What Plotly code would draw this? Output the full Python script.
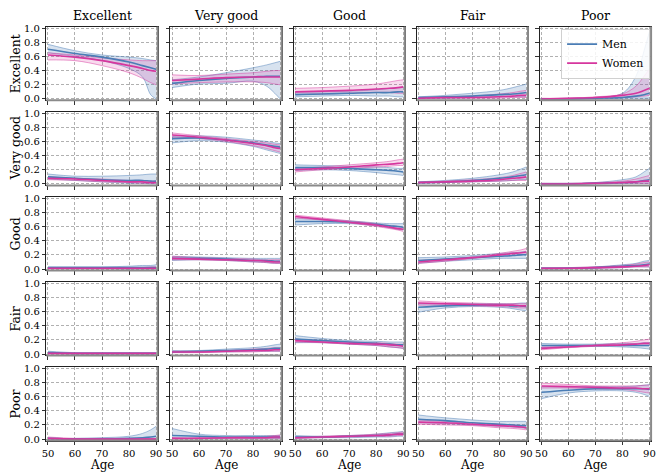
import plotly.graph_objects as go

AGES = [50, 60, 70, 80, 85, 88, 90]
STATES = ["Excellent", "Very good", "Good", "Fair", "Poor"]
X_TICKS = [50, 60, 70, 80, 90]
Y_TICKS = [0.0, 0.2, 0.4, 0.6, 0.8, 1.0]

# [from_state][to_state] -> values at AGES
MEN_MEAN = [
    [[0.70, 0.64, 0.59, 0.52, 0.47, 0.44, 0.42], [0.22, 0.26, 0.29, 0.31, 0.32, 0.32, 0.32], [0.06, 0.07, 0.08, 0.09, 0.09, 0.10, 0.10], [0.02, 0.03, 0.04, 0.06, 0.07, 0.08, 0.09], [0.00, 0.00, 0.01, 0.02, 0.04, 0.06, 0.08]],
    [[0.10, 0.08, 0.06, 0.05, 0.05, 0.04, 0.04], [0.64, 0.65, 0.62, 0.58, 0.55, 0.53, 0.52], [0.23, 0.23, 0.22, 0.20, 0.19, 0.18, 0.17], [0.02, 0.03, 0.05, 0.08, 0.10, 0.12, 0.13], [0.00, 0.00, 0.01, 0.02, 0.03, 0.05, 0.06]],
    [[0.02, 0.02, 0.02, 0.02, 0.02, 0.02, 0.02], [0.15, 0.15, 0.14, 0.12, 0.12, 0.11, 0.11], [0.67, 0.67, 0.66, 0.63, 0.61, 0.60, 0.59], [0.12, 0.14, 0.16, 0.18, 0.19, 0.20, 0.20], [0.01, 0.01, 0.02, 0.04, 0.05, 0.06, 0.07]],
    [[0.02, 0.01, 0.01, 0.01, 0.01, 0.01, 0.01], [0.03, 0.04, 0.05, 0.06, 0.07, 0.08, 0.08], [0.21, 0.19, 0.17, 0.15, 0.14, 0.13, 0.13], [0.66, 0.68, 0.69, 0.69, 0.68, 0.68, 0.67], [0.12, 0.12, 0.12, 0.12, 0.12, 0.12, 0.12]],
    [[0.01, 0.00, 0.00, 0.01, 0.02, 0.03, 0.04], [0.05, 0.04, 0.03, 0.03, 0.03, 0.03, 0.03], [0.03, 0.03, 0.04, 0.05, 0.06, 0.07, 0.07], [0.28, 0.26, 0.23, 0.21, 0.20, 0.19, 0.19], [0.66, 0.69, 0.71, 0.71, 0.71, 0.71, 0.70]],
]
MEN_LO = [
    [[0.65, 0.60, 0.54, 0.43, 0.31, 0.06, 0.00], [0.16, 0.21, 0.22, 0.25, 0.18, 0.08, 0.00], [0.03, 0.04, 0.05, 0.04, 0.04, 0.03, 0.03], [0.01, 0.01, 0.02, 0.03, 0.03, 0.03, 0.03], [0.00, 0.00, 0.00, 0.01, 0.01, 0.01, 0.01]],
    [[0.07, 0.05, 0.03, 0.01, 0.01, 0.00, 0.00], [0.58, 0.61, 0.59, 0.53, 0.48, 0.45, 0.43], [0.19, 0.20, 0.19, 0.16, 0.14, 0.13, 0.12], [0.01, 0.02, 0.03, 0.04, 0.05, 0.06, 0.06], [0.00, 0.00, 0.00, 0.01, 0.01, 0.01, 0.01]],
    [[0.01, 0.01, 0.01, 0.00, 0.00, 0.00, 0.00], [0.12, 0.13, 0.12, 0.10, 0.09, 0.08, 0.08], [0.62, 0.64, 0.64, 0.61, 0.58, 0.56, 0.55], [0.08, 0.11, 0.13, 0.15, 0.15, 0.15, 0.15], [0.00, 0.01, 0.01, 0.02, 0.03, 0.03, 0.03]],
    [[0.01, 0.00, 0.00, 0.00, 0.00, 0.00, 0.00], [0.02, 0.03, 0.03, 0.04, 0.04, 0.04, 0.04], [0.16, 0.16, 0.14, 0.12, 0.10, 0.09, 0.08], [0.59, 0.65, 0.67, 0.66, 0.64, 0.62, 0.61], [0.09, 0.10, 0.11, 0.10, 0.09, 0.08, 0.07]],
    [[0.00, 0.00, 0.00, 0.00, 0.00, 0.00, 0.00], [0.01, 0.01, 0.01, 0.01, 0.01, 0.01, 0.01], [0.01, 0.02, 0.02, 0.03, 0.03, 0.04, 0.04], [0.23, 0.22, 0.20, 0.18, 0.17, 0.16, 0.15], [0.57, 0.65, 0.68, 0.68, 0.66, 0.63, 0.60]],
]
MEN_HI = [
    [[0.77, 0.68, 0.62, 0.59, 0.57, 0.55, 0.54], [0.27, 0.31, 0.37, 0.44, 0.48, 0.51, 0.53], [0.10, 0.10, 0.11, 0.13, 0.15, 0.16, 0.17], [0.03, 0.05, 0.08, 0.12, 0.16, 0.19, 0.21], [0.00, 0.01, 0.02, 0.08, 0.32, 0.68, 0.95]],
    [[0.14, 0.11, 0.11, 0.12, 0.13, 0.14, 0.14], [0.67, 0.68, 0.66, 0.62, 0.60, 0.58, 0.57], [0.27, 0.26, 0.25, 0.24, 0.23, 0.22, 0.22], [0.03, 0.05, 0.08, 0.13, 0.17, 0.21, 0.24], [0.01, 0.01, 0.02, 0.06, 0.10, 0.17, 0.22]],
    [[0.03, 0.03, 0.03, 0.04, 0.05, 0.05, 0.06], [0.18, 0.17, 0.16, 0.15, 0.15, 0.15, 0.15], [0.71, 0.70, 0.68, 0.65, 0.64, 0.64, 0.64], [0.16, 0.17, 0.19, 0.22, 0.23, 0.24, 0.25], [0.02, 0.02, 0.03, 0.06, 0.08, 0.11, 0.12]],
    [[0.04, 0.02, 0.02, 0.02, 0.02, 0.02, 0.02], [0.05, 0.05, 0.07, 0.09, 0.11, 0.13, 0.14], [0.26, 0.22, 0.19, 0.18, 0.17, 0.17, 0.17], [0.71, 0.71, 0.71, 0.71, 0.71, 0.72, 0.72], [0.15, 0.14, 0.14, 0.15, 0.15, 0.16, 0.16]],
    [[0.01, 0.01, 0.02, 0.04, 0.08, 0.13, 0.18], [0.15, 0.07, 0.05, 0.05, 0.05, 0.05, 0.05], [0.05, 0.04, 0.05, 0.07, 0.09, 0.10, 0.11], [0.34, 0.30, 0.27, 0.25, 0.25, 0.25, 0.25], [0.74, 0.74, 0.74, 0.74, 0.75, 0.76, 0.77]],
]
WOMEN_MEAN = [
    [[0.62, 0.59, 0.54, 0.47, 0.43, 0.40, 0.39], [0.26, 0.28, 0.30, 0.31, 0.31, 0.31, 0.31], [0.10, 0.11, 0.12, 0.14, 0.15, 0.16, 0.17], [0.01, 0.02, 0.02, 0.03, 0.04, 0.05, 0.05], [0.00, 0.01, 0.02, 0.05, 0.08, 0.12, 0.15]],
    [[0.08, 0.07, 0.05, 0.03, 0.03, 0.02, 0.02], [0.69, 0.66, 0.62, 0.57, 0.54, 0.51, 0.50], [0.20, 0.22, 0.24, 0.27, 0.28, 0.29, 0.30], [0.02, 0.03, 0.04, 0.06, 0.08, 0.09, 0.10], [0.00, 0.00, 0.01, 0.02, 0.03, 0.04, 0.04]],
    [[0.01, 0.01, 0.01, 0.01, 0.01, 0.01, 0.01], [0.15, 0.14, 0.13, 0.12, 0.11, 0.10, 0.10], [0.74, 0.70, 0.66, 0.62, 0.59, 0.57, 0.56], [0.10, 0.13, 0.16, 0.20, 0.22, 0.23, 0.24], [0.01, 0.01, 0.02, 0.03, 0.04, 0.05, 0.06]],
    [[0.01, 0.01, 0.01, 0.01, 0.01, 0.01, 0.01], [0.03, 0.03, 0.04, 0.05, 0.05, 0.06, 0.06], [0.19, 0.17, 0.15, 0.14, 0.13, 0.12, 0.11], [0.72, 0.71, 0.70, 0.69, 0.69, 0.68, 0.68], [0.08, 0.10, 0.12, 0.13, 0.14, 0.15, 0.15]],
    [[0.01, 0.00, 0.00, 0.00, 0.00, 0.00, 0.00], [0.01, 0.01, 0.02, 0.02, 0.02, 0.03, 0.03], [0.02, 0.03, 0.04, 0.05, 0.06, 0.07, 0.07], [0.24, 0.23, 0.21, 0.19, 0.18, 0.17, 0.16], [0.75, 0.74, 0.73, 0.72, 0.72, 0.71, 0.71]],
]
WOMEN_LO = [
    [[0.55, 0.54, 0.47, 0.37, 0.29, 0.23, 0.20], [0.21, 0.23, 0.24, 0.24, 0.23, 0.21, 0.20], [0.06, 0.07, 0.08, 0.09, 0.09, 0.08, 0.08], [0.00, 0.01, 0.01, 0.01, 0.02, 0.02, 0.02], [0.00, 0.00, 0.01, 0.02, 0.03, 0.04, 0.05]],
    [[0.06, 0.05, 0.03, 0.02, 0.01, 0.01, 0.01], [0.66, 0.64, 0.60, 0.54, 0.50, 0.47, 0.45], [0.17, 0.20, 0.22, 0.24, 0.25, 0.26, 0.26], [0.01, 0.02, 0.03, 0.04, 0.05, 0.05, 0.05], [0.00, 0.00, 0.00, 0.01, 0.01, 0.01, 0.01]],
    [[0.00, 0.00, 0.00, 0.00, 0.00, 0.00, 0.00], [0.13, 0.13, 0.12, 0.10, 0.09, 0.08, 0.08], [0.72, 0.69, 0.65, 0.60, 0.57, 0.55, 0.53], [0.08, 0.11, 0.15, 0.18, 0.19, 0.20, 0.21], [0.00, 0.01, 0.01, 0.02, 0.03, 0.03, 0.03]],
    [[0.00, 0.00, 0.00, 0.00, 0.00, 0.00, 0.00], [0.02, 0.02, 0.03, 0.03, 0.04, 0.04, 0.04], [0.17, 0.16, 0.14, 0.12, 0.10, 0.09, 0.08], [0.69, 0.69, 0.68, 0.67, 0.66, 0.65, 0.65], [0.06, 0.09, 0.11, 0.12, 0.12, 0.12, 0.12]],
    [[0.00, 0.00, 0.00, 0.00, 0.00, 0.00, 0.00], [0.00, 0.01, 0.01, 0.01, 0.01, 0.01, 0.01], [0.01, 0.02, 0.03, 0.04, 0.04, 0.05, 0.05], [0.21, 0.20, 0.19, 0.16, 0.15, 0.14, 0.13], [0.72, 0.72, 0.71, 0.70, 0.68, 0.66, 0.65]],
]
WOMEN_HI = [
    [[0.65, 0.62, 0.58, 0.55, 0.54, 0.54, 0.54], [0.34, 0.33, 0.35, 0.37, 0.39, 0.40, 0.40], [0.15, 0.16, 0.18, 0.21, 0.24, 0.26, 0.27], [0.02, 0.03, 0.04, 0.07, 0.09, 0.11, 0.12], [0.01, 0.01, 0.03, 0.07, 0.18, 0.32, 0.42]],
    [[0.10, 0.08, 0.07, 0.05, 0.05, 0.04, 0.04], [0.72, 0.68, 0.64, 0.60, 0.58, 0.56, 0.55], [0.22, 0.24, 0.27, 0.30, 0.32, 0.34, 0.35], [0.03, 0.04, 0.06, 0.09, 0.12, 0.15, 0.17], [0.01, 0.01, 0.02, 0.04, 0.07, 0.10, 0.12]],
    [[0.02, 0.02, 0.02, 0.02, 0.02, 0.03, 0.03], [0.18, 0.16, 0.15, 0.14, 0.13, 0.13, 0.13], [0.76, 0.72, 0.68, 0.64, 0.61, 0.60, 0.59], [0.12, 0.14, 0.17, 0.22, 0.25, 0.27, 0.29], [0.01, 0.02, 0.03, 0.05, 0.07, 0.09, 0.10]],
    [[0.02, 0.01, 0.01, 0.01, 0.01, 0.01, 0.01], [0.04, 0.04, 0.05, 0.07, 0.08, 0.09, 0.09], [0.21, 0.19, 0.17, 0.16, 0.15, 0.14, 0.14], [0.75, 0.73, 0.72, 0.71, 0.71, 0.71, 0.71], [0.10, 0.11, 0.13, 0.16, 0.18, 0.20, 0.21]],
    [[0.03, 0.01, 0.01, 0.01, 0.01, 0.01, 0.01], [0.02, 0.02, 0.02, 0.03, 0.04, 0.05, 0.06], [0.03, 0.04, 0.05, 0.07, 0.08, 0.09, 0.10], [0.27, 0.25, 0.23, 0.21, 0.20, 0.19, 0.19], [0.79, 0.77, 0.75, 0.75, 0.75, 0.76, 0.76]],
]

W, H = 661, 475
FONT = "DejaVu Serif"
COL_LEFT = [42, 168, 293, 418, 543]
COL_W = 113
ROW_TOP = [23, 109.5, 196, 282.5, 369]
ROW_H = 75

MEN_C = "#4a7db5"
MEN_FILL = "rgba(74,125,181,0.22)"
MEN_EDGE = "rgba(74,125,181,0.6)"
WOM_C = "#d6369e"
WOM_FILL = "rgba(214,54,158,0.18)"
WOM_EDGE = "rgba(214,54,158,0.6)"

fig = go.Figure()
layout = dict(
    width=W, height=H,
    margin=dict(l=0, r=0, t=0, b=0),
    paper_bgcolor="white", plot_bgcolor="white",
    font=dict(family=FONT, size=10, color="black"),
    showlegend=True,
)
annotations = []
shapes = []

for r in range(5):
    for c in range(5):
        idx = r * 5 + c + 1
        xa = "x" if idx == 1 else f"x{idx}"
        ya = "y" if idx == 1 else f"y{idx}"
        first = (r == 0 and c == 4)
        for mean, lo, hi, col, fill, edge, name in (
            (MEN_MEAN, MEN_LO, MEN_HI, MEN_C, MEN_FILL, MEN_EDGE, "Men"),
            (WOMEN_MEAN, WOMEN_LO, WOMEN_HI, WOM_C, WOM_FILL, WOM_EDGE, "Women"),
        ):
            fig.add_trace(go.Scatter(x=AGES, y=hi[r][c], xaxis=xa, yaxis=ya, mode="lines",
                                     line=dict(color=edge, width=0.8, shape="spline"),
                                     showlegend=False, hoverinfo="skip"))
            fig.add_trace(go.Scatter(x=AGES, y=lo[r][c], xaxis=xa, yaxis=ya, mode="lines",
                                     line=dict(color=edge, width=0.8, shape="spline"),
                                     fill="tonexty", fillcolor=fill,
                                     showlegend=False, hoverinfo="skip"))
        fig.add_trace(go.Scatter(x=AGES, y=MEN_MEAN[r][c], xaxis=xa, yaxis=ya, mode="lines",
                                 line=dict(color=MEN_C, width=1.6, shape="spline"),
                                 name="Men", showlegend=first))
        fig.add_trace(go.Scatter(x=AGES, y=WOMEN_MEAN[r][c], xaxis=xa, yaxis=ya, mode="lines",
                                 line=dict(color=WOM_C, width=1.6, shape="spline"),
                                 name="Women", showlegend=first))

        x0 = COL_LEFT[c] / W
        x1 = (COL_LEFT[c] + COL_W) / W
        y1 = 1 - ROW_TOP[r] / H
        y0 = 1 - (ROW_TOP[r] + ROW_H) / H
        axis_common = dict(showline=True, mirror=True, linecolor="#222222", linewidth=1,
                           showgrid=True, gridcolor="#b0b0b0", gridwidth=0.8, griddash="3px,2px",
                           zeroline=False, ticks="outside", ticklen=3.5, tickwidth=0.8,
                           tickcolor="#333333", tickfont=dict(family=FONT, size=10))
        layout["xaxis" if idx == 1 else f"xaxis{idx}"] = dict(
            axis_common, domain=[x0, x1], range=[49.4, 90.6], tickvals=X_TICKS,
            showticklabels=(r == 4), anchor=ya)
        layout["yaxis" if idx == 1 else f"yaxis{idx}"] = dict(
            axis_common, domain=[y0, y1], range=[-0.02, 1.02], tickvals=Y_TICKS,
            ticktext=[f"{v:.1f}" for v in Y_TICKS], showticklabels=(c == 0), anchor=xa)
        # gray shadow on right and bottom spines
        shapes.append(dict(type="line", xref=f"{xa} domain", yref=f"{ya} domain",
                           x0=1, x1=1, y0=0, y1=1, line=dict(color="#8a8a8a", width=2)))
        shapes.append(dict(type="line", xref=f"{xa} domain", yref=f"{ya} domain",
                           x0=0, x1=1, y0=0, y1=0, line=dict(color="#8a8a8a", width=2)))

for c, s in enumerate(STATES):
    annotations.append(dict(text=s, x=(COL_LEFT[c] + COL_W / 2) / W, y=1 - 12 / H,
                            xref="paper", yref="paper", showarrow=False,
                            font=dict(family=FONT, size=12.5), xanchor="center", yanchor="middle"))
    annotations.append(dict(text="Age", x=(COL_LEFT[c] + COL_W / 2) / W, y=1 - 469 / H,
                            xref="paper", yref="paper", showarrow=False,
                            font=dict(family=FONT, size=12), xanchor="center", yanchor="middle"))
for r, s in enumerate(STATES):
    annotations.append(dict(text=s, x=11 / W, y=1 - (ROW_TOP[r] + ROW_H / 2) / H,
                            xref="paper", yref="paper", showarrow=False, textangle=-90,
                            font=dict(family=FONT, size=12.5), xanchor="center", yanchor="middle"))

layout["annotations"] = annotations
layout["shapes"] = shapes
layout["legend"] = dict(x=655 / W, y=1 - 25 / H, xanchor="right", yanchor="top",
                        traceorder="normal",
                        bgcolor="rgba(255,255,255,0.85)", bordercolor="#d0d0d0", borderwidth=1,
                        font=dict(family=FONT, size=11), itemwidth=30, tracegroupgap=0)
fig.update_layout(**layout)
fig.write_html("out.html")
